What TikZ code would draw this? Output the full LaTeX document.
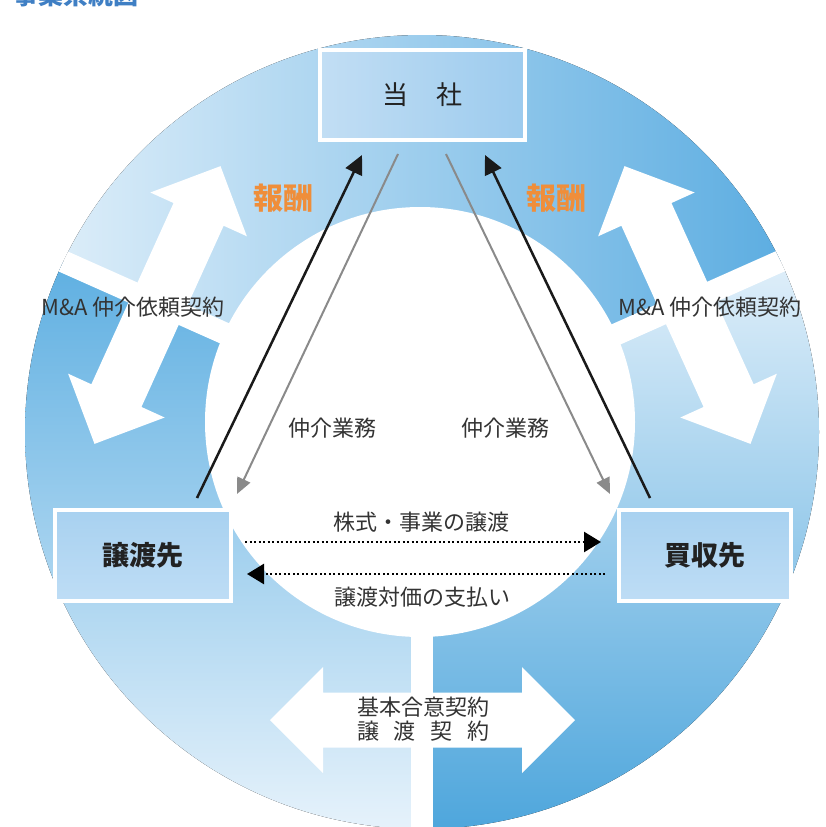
\documentclass[tikz,border=0pt]{standalone}
\usepackage{fontspec}
\setmainfont{Noto Sans CJK JP}
\usetikzlibrary{arrows.meta,calc}
\definecolor{topL}{HTML}{E2F0FA}
\definecolor{topR}{HTML}{56AAE0}
\definecolor{leftT}{HTML}{5CAEE1}
\definecolor{leftB}{HTML}{E6F2FB}
\definecolor{rightT}{HTML}{E2F0FA}
\definecolor{rightB}{HTML}{4EA6DC}
\definecolor{boxA}{HTML}{C2DEF4}
\definecolor{boxB}{HTML}{9CCBEE}
\definecolor{boxC}{HTML}{A8D1F0}
\definecolor{boxD}{HTML}{BEDDF5}
\definecolor{lblc}{HTML}{333333}
\definecolor{boxtxt}{HTML}{222222}
\definecolor{arrblack}{HTML}{1A1A1A}
\definecolor{arrgray}{HTML}{8A8A8A}
\definecolor{orangec}{HTML}{EF8E3A}
\definecolor{titleblue}{HTML}{3F7FC4}
\begin{document}
\begin{tikzpicture}[x=1pt,y=-1pt,
  lbl/.style={text=lblc, font=\fontsize{22pt}{24pt}\selectfont, inner sep=0pt},
  boxnode/.style={draw=white, line width=4pt, text=boxtxt, inner sep=0pt,
    font=\fontsize{27pt}{30pt}\selectfont\bfseries},
  blk/.style={draw=arrblack, line width=2.5pt, -{Triangle[length=19pt,width=18pt]}},
  gry/.style={draw=arrgray, line width=2pt, -{Triangle[length=16pt,width=14pt]}},
  dotline/.style={draw=black, line width=2.5pt, dash pattern=on 2pt off 2.5pt,
    -{Triangle[length=17pt,width=20pt]}},
  wband/.style={draw=white, line width=22pt},
  reward/.style={text=orangec, inner sep=0pt, font=\fontsize{30pt}{30pt}\selectfont\bfseries},
]
\useasboundingbox (0,0) rectangle (825,827);
\fill[white] (0,0) rectangle (825,827);

\coordinate (O) at (421.5,421);
\coordinate (C) at (422,432);

% ring sectors
\begin{scope}
  \clip (C) circle[radius=397];
  \begin{scope}
    \clip (O) -- ([shift={(204:1000)}]O) -- ([shift={(270:1000)}]O) -- ([shift={(336:1000)}]O) -- cycle;
    \fill[left color=topL, right color=topR] (25,30) rectangle (820,430);
  \end{scope}
  \begin{scope}
    \clip (O) -- ([shift={(336:1000)}]O) -- ([shift={(33:1000)}]O) -- ([shift={(90:1000)}]O) -- cycle;
    \fill[top color=rightT, bottom color=rightB] (420,250) rectangle (825,830);
  \end{scope}
  \begin{scope}
    \clip (O) -- ([shift={(90:1000)}]O) -- ([shift={(147:1000)}]O) -- ([shift={(204:1000)}]O) -- cycle;
    \fill[top color=leftT, bottom color=leftB] (20,250) rectangle (425,830);
  \end{scope}
  \draw[wband] (O) -- ([shift={(204:600)}]O);
  \draw[wband] (O) -- ([shift={(336:600)}]O);
  \draw[wband] (O) -- ([shift={(90:600)}]O);
\end{scope}

% inner white disk
\fill[white] (420,422) circle[radius=215];

% white double arrows
\foreach \cx/\cy/\ang in {157.5/305/65.6, 687.5/305/-65.6, 422.5/720/0}{
  \fill[white, shift={(\cx,\cy)}, rotate=\ang]
    (-152.5,0) -- (-99.5,-53) -- (-99.5,-27.5) -- (99.5,-27.5) -- (99.5,-53)
    -- (152.5,0) -- (99.5,53) -- (99.5,27.5) -- (-99.5,27.5) -- (-99.5,53) -- cycle;
}

% title (cut off at top, as in the reference)
\node[anchor=base west, inner sep=0pt, text=titleblue,
  font=\fontsize{25pt}{25pt}\selectfont\bfseries] (title) at (13,5) {事業系統図};

% boxes
\node[boxnode, left color=boxA, right color=boxB, minimum width=205pt, minimum height=90pt,
  font=\fontsize{26pt}{30pt}\selectfont]
  (tosha) at (422.5,95) {当\hspace{1.1em}社};
\node[boxnode, top color=boxC, bottom color=boxD, minimum width=176pt, minimum height=91pt]
  (joto) at (143,555.5) {譲渡先};
\node[boxnode, top color=boxC, bottom color=boxD, minimum width=172pt, minimum height=91pt]
  (baishu) at (705,555.5) {買収先};

% diagonal arrows
\draw[blk] ([xshift=54pt,yshift=10pt]joto.north) -- ([xshift=-60.5pt,yshift=-13pt]tosha.south);
\draw[gry] ([xshift=-24.5pt,yshift=-12pt]tosha.south) -- ([xshift=4pt,yshift=14pt]joto.north east);
\draw[gry] ([xshift=23.5pt,yshift=-12pt]tosha.south) -- ([xshift=-7pt,yshift=14pt]baishu.north west);
\draw[blk] ([xshift=-55pt,yshift=10pt]baishu.north) -- ([xshift=62.5pt,yshift=-13pt]tosha.south);

% dotted arrows
\draw[dotline] ([xshift=12pt,yshift=13.5pt]joto.east) -- ([xshift=-16pt,yshift=13.5pt]baishu.west);
\draw[dotline] ([xshift=-12pt,yshift=-18.5pt]baishu.west) -- ([xshift=14pt,yshift=-18.5pt]joto.east);

% labels
\node[reward] (rwL) at (283,198) {報酬};
\node[reward] (rwR) at (556,198) {報酬};
\node[lbl] (maL) at (133,307) {M\&A 仲介依頼契約};
\node[lbl] (maR) at (710,307) {M\&A 仲介依頼契約};
\node[lbl] (chL) at (332,428) {仲介業務};
\node[lbl] (chR) at (505,428) {仲介業務};
\node[lbl] (kabu) at (421,522) {株式・事業の譲渡};
\node[lbl] (pay) at (422,597) {譲渡対価の支払い};
\node[lbl, align=center] (kihon) at (423,719)
  {基本合意契約\\\makebox[6em][s]{譲\hfill 渡\hfill 契\hfill 約}};
\end{tikzpicture}
\end{document}
